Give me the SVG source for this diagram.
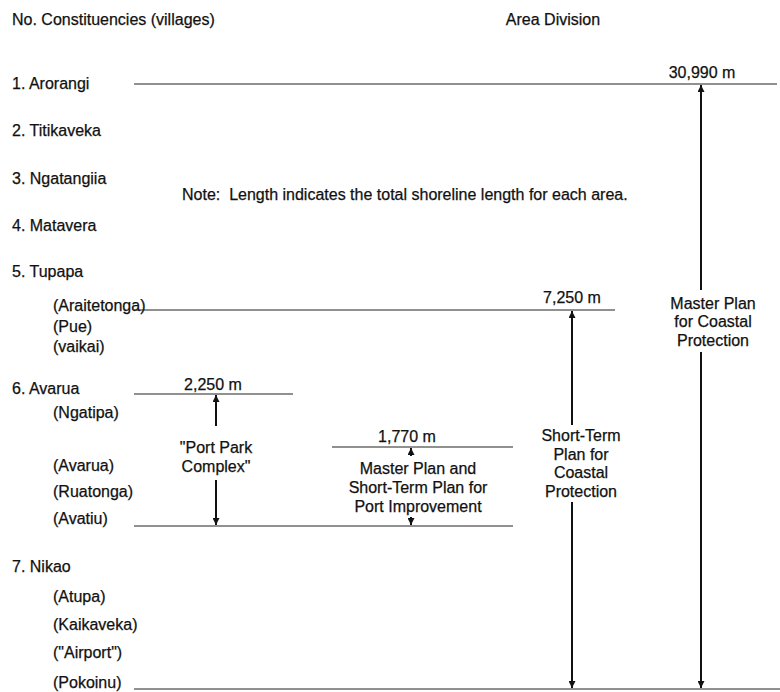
<svg xmlns="http://www.w3.org/2000/svg" width="780" height="692" viewBox="0 0 780 692">
<defs>
<style>
text{font-family:"Liberation Sans",Arial,sans-serif;font-size:16px;fill:#111;stroke:#111;stroke-width:0.25;}
.c{text-anchor:middle;}
.hl{stroke:#222;stroke-width:1.2;fill:none;}
.ar{stroke:#111;stroke-width:2;fill:none;marker-end:url(#ah);}
</style>
<marker id="ah" viewBox="0 0 10 10" refX="10" refY="5" markerUnits="userSpaceOnUse" markerWidth="8" markerHeight="7" orient="auto">
<path d="M0,0 L10,5 L0,10 z" fill="#111"/>
</marker>
</defs>
<rect width="780" height="692" fill="#fff"/>
<g id="headers">
<text x="12" y="25">No. Constituencies (villages)</text>
<text x="553" y="25" class="c">Area Division</text>
<text x="182" y="200">Note:&#160; Length indicates the total shoreline length for each area.</text>
</g>
<g id="villages">
<text x="12" y="89">1. Arorangi</text>
<text x="12" y="136">2. Titikaveka</text>
<text x="12" y="184">3. Ngatangiia</text>
<text x="12" y="231">4. Matavera</text>
<text x="12" y="277">5. Tupapa</text>
<text x="53" y="311">(Araitetonga)</text>
<text x="53" y="332">(Pue)</text>
<text x="53" y="352">(vaikai)</text>
<text x="12" y="394">6. Avarua</text>
<text x="53" y="418">(Ngatipa)</text>
<text x="53" y="471">(Avarua)</text>
<text x="53" y="497">(Ruatonga)</text>
<text x="53" y="524">(Avatiu)</text>
<text x="12" y="572">7. Nikao</text>
<text x="53" y="602">(Atupa)</text>
<text x="53" y="630">(Kaikaveka)</text>
<text x="53" y="658">("Airport")</text>
<text x="53" y="688">(Pokoinu)</text>
</g>
<g id="connectors">
<line class="hl" x1="134" y1="84" x2="777" y2="84"/>
<line class="hl" x1="134" y1="310" x2="615" y2="310"/>
<line class="hl" x1="134" y1="394" x2="293" y2="394"/>
<line class="hl" x1="332" y1="447" x2="513" y2="447"/>
<line class="hl" x1="134" y1="526" x2="513" y2="526"/>
<line class="hl" x1="134" y1="689" x2="780" y2="689"/>
<line class="ar" x1="701" y1="290" x2="701" y2="85"/>
<line class="ar" x1="701" y1="352" x2="701" y2="688"/>
<line class="ar" x1="572" y1="425" x2="572" y2="311"/>
<line class="ar" x1="572" y1="502" x2="572" y2="688"/>
<line class="ar" x1="216" y1="426" x2="216" y2="395"/>
<line class="ar" x1="216" y1="480" x2="216" y2="525"/>
<line class="ar" x1="411" y1="456" x2="411" y2="448"/>
<line class="ar" x1="411" y1="517" x2="411" y2="525"/>
</g>
<g id="area-master">
<text x="702" y="78" class="c">30,990 m</text>
<text x="713" y="309" class="c">Master Plan</text>
<text x="713" y="327" class="c">for Coastal</text>
<text x="713" y="346" class="c">Protection</text>
</g>
<g id="area-short">
<text x="572" y="303" class="c">7,250 m</text>
<text x="581" y="441" class="c">Short-Term</text>
<text x="581" y="460" class="c">Plan for</text>
<text x="581" y="478" class="c">Coastal</text>
<text x="581" y="497" class="c">Protection</text>
</g>
<g id="area-portpark">
<text x="213" y="390" class="c">2,250 m</text>
<text x="216" y="453" class="c">"Port Park</text>
<text x="216" y="472" class="c">Complex"</text>
</g>
<g id="area-port">
<text x="407" y="442" class="c">1,770 m</text>
<text x="418" y="474" class="c">Master Plan and</text>
<text x="418" y="493" class="c">Short-Term Plan for</text>
<text x="418" y="512" class="c">Port Improvement</text>
</g>
</svg>
